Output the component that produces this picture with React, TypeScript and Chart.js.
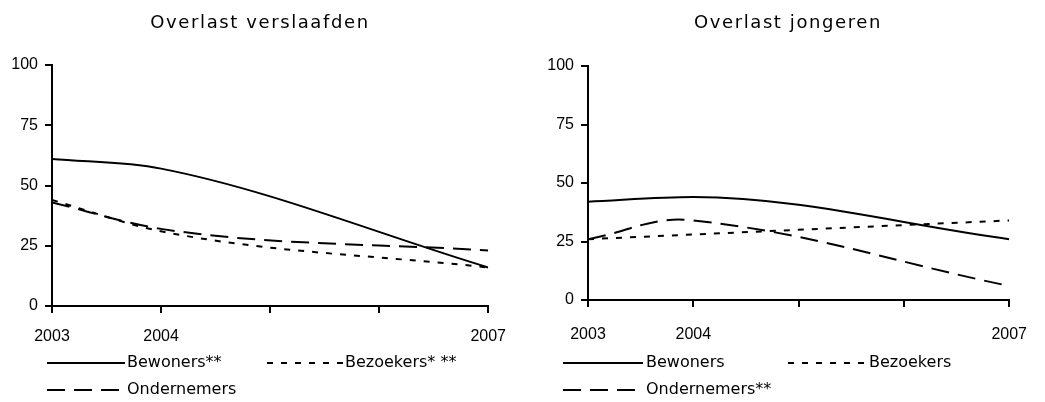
import React, { useEffect, useRef } from "react";
import { Chart, registerables } from "chart.js";

Chart.register(...registerables);

const years = [2003, 2004, 2007];
const tickLabels = ["2003", "2004", "2007"];

const bewonersVerslaafden = [61, 57, 16];
const bezoekersVerslaafden = [44, 31, 16];
const ondernemersVerslaafden = [43, 32, 23];

const bewonersJongeren = [42, 44, 26];
const bezoekersJongeren = [26, 28, 34];
const ondernemersJongeren = [26, 34, 6];

const titles = ["Overlast verslaafden", "Overlast jongeren"];
const legendLeft = ["Bewoners**", "Bezoekers* **", "Ondernemers"];
const legendRight = ["Bewoners", "Bezoekers", "Ondernemers**"];

const SOLID: number[] = [];
const DOTTED = [6, 8];
const DASHED = [18, 9];
const dashes = [SOLID, DOTTED, DASHED];

const TICK_FONT = { family: "'Liberation Sans', Arial, sans-serif", size: 16 };
const TEXT_FAMILY = "'DejaVu Sans', sans-serif";

type PanelCfg = {
  width: number;
  title: string;
  titleX: number;
  series: number[][];
  modes: string[];
  legend: string[];
  padTop: number;
  padRight: number;
  yWidth: number;
  xHeight: number;
  xLabelPad: number;
  legendCols: { sx: number; sw: number; tx: number }[];
};

function makeDecor(cfg: PanelCfg) {
  return {
    id: "decor",
    afterDraw(chart: any) {
      const ctx = chart.ctx as any;
      ctx.save();
      ctx.fillStyle = "#000";
      ctx.font = `18px ${TEXT_FAMILY}`;
      ctx.textAlign = "center";
      ctx.textBaseline = "middle";
      if ("letterSpacing" in ctx) ctx.letterSpacing = "1.6px";
      ctx.fillText(cfg.title, cfg.titleX, 23);
      if ("letterSpacing" in ctx) ctx.letterSpacing = "0px";
      const rows = [363, 390];
      const slots = [
        { row: 0, col: 0 },
        { row: 0, col: 1 },
        { row: 1, col: 0 },
      ];
      ctx.font = `16px ${TEXT_FAMILY}`;
      ctx.textAlign = "left";
      cfg.legend.forEach((lab, i) => {
        const s = slots[i];
        const c = cfg.legendCols[s.col];
        const y = rows[s.row];
        ctx.beginPath();
        ctx.setLineDash(dashes[i]);
        ctx.lineWidth = 2;
        ctx.strokeStyle = "#000";
        ctx.moveTo(c.sx, y);
        ctx.lineTo(c.sx + c.sw, y);
        ctx.stroke();
        ctx.setLineDash([]);
        ctx.fillText(lab, c.tx, y);
      });
      ctx.restore();
    },
  };
}

function Panel({ cfg }: { cfg: PanelCfg }) {
  const ref = useRef<HTMLCanvasElement | null>(null);
  useEffect(() => {
    if (!ref.current) return;
    const datasets = cfg.series.map((vals, i) => ({
      label: cfg.legend[i],
      data: years.map((x, j) => ({ x, y: vals[j] })),
      borderColor: "#000",
      backgroundColor: "#000",
      borderWidth: 2,
      borderDash: dashes[i],
      pointRadius: 0,
      tension: 0.4,
      cubicInterpolationMode: cfg.modes[i],
      fill: false,
    }));
    const chart = new Chart(ref.current, {
      type: "line",
      data: { datasets },
      options: {
        responsive: false,
        animation: false,
        devicePixelRatio: 1,
        layout: { padding: { top: cfg.padTop, right: cfg.padRight, left: 0, bottom: 0 } },
        plugins: { legend: { display: false }, title: { display: false }, tooltip: { enabled: false } },
        scales: {
          x: {
            type: "linear",
            min: 2003,
            max: 2007,
            afterFit: (s: any) => {
              s.height = cfg.xHeight;
            },
            ticks: {
              stepSize: 1,
              autoSkip: false,
              maxRotation: 0,
              color: "#000",
              font: TICK_FONT,
              padding: cfg.xLabelPad,
              callback: (v: any) => (tickLabels.includes(String(v)) ? String(v) : ""),
            },
            grid: { drawOnChartArea: false, drawTicks: true, tickLength: 7, color: "#000", lineWidth: 2 },
            border: { display: true, color: "#000", width: 2 },
          },
          y: {
            min: 0,
            max: 100,
            afterFit: (s: any) => {
              s.width = cfg.yWidth;
            },
            ticks: { stepSize: 25, color: "#000", font: TICK_FONT, padding: 7 },
            grid: { drawOnChartArea: false, drawTicks: true, tickLength: 7, color: "#000", lineWidth: 2 },
            border: { display: true, color: "#000", width: 2 },
          },
        },
      },
      plugins: [makeDecor(cfg)],
    } as any);
    return () => chart.destroy();
  }, [cfg]);
  return <canvas ref={ref} width={cfg.width} height={402} style={{ display: "block" }} />;
}

const leftCfg: PanelCfg = {
  width: 520,
  title: titles[0],
  titleX: 260,
  series: [bewonersVerslaafden, bezoekersVerslaafden, ondernemersVerslaafden],
  modes: ["monotone", "monotone", "monotone"],
  legend: legendLeft,
  padTop: 65,
  padRight: 26,
  yWidth: 52,
  xHeight: 96,
  xLabelPad: 14,
  legendCols: [
    { sx: 47, sw: 78, tx: 127 },
    { sx: 267, sw: 76, tx: 345 },
  ],
};

const rightCfg: PanelCfg = {
  width: 525,
  title: titles[1],
  titleX: 268,
  series: [bewonersJongeren, bezoekersJongeren, ondernemersJongeren],
  modes: ["monotone", "monotone", "default"],
  legend: legendRight,
  padTop: 66,
  padRight: 23,
  yWidth: 68,
  xHeight: 102,
  xLabelPad: 18,
  legendCols: [
    { sx: 43, sw: 80, tx: 126 },
    { sx: 268, sw: 80, tx: 349 },
  ],
};

export default function App() {
  return (
    <div
      style={{
        position: "absolute",
        left: 0,
        top: 0,
        width: 1045,
        height: 402,
        display: "flex",
        background: "#fff",
      }}
    >
      <Panel cfg={leftCfg} />
      <Panel cfg={rightCfg} />
    </div>
  );
}
